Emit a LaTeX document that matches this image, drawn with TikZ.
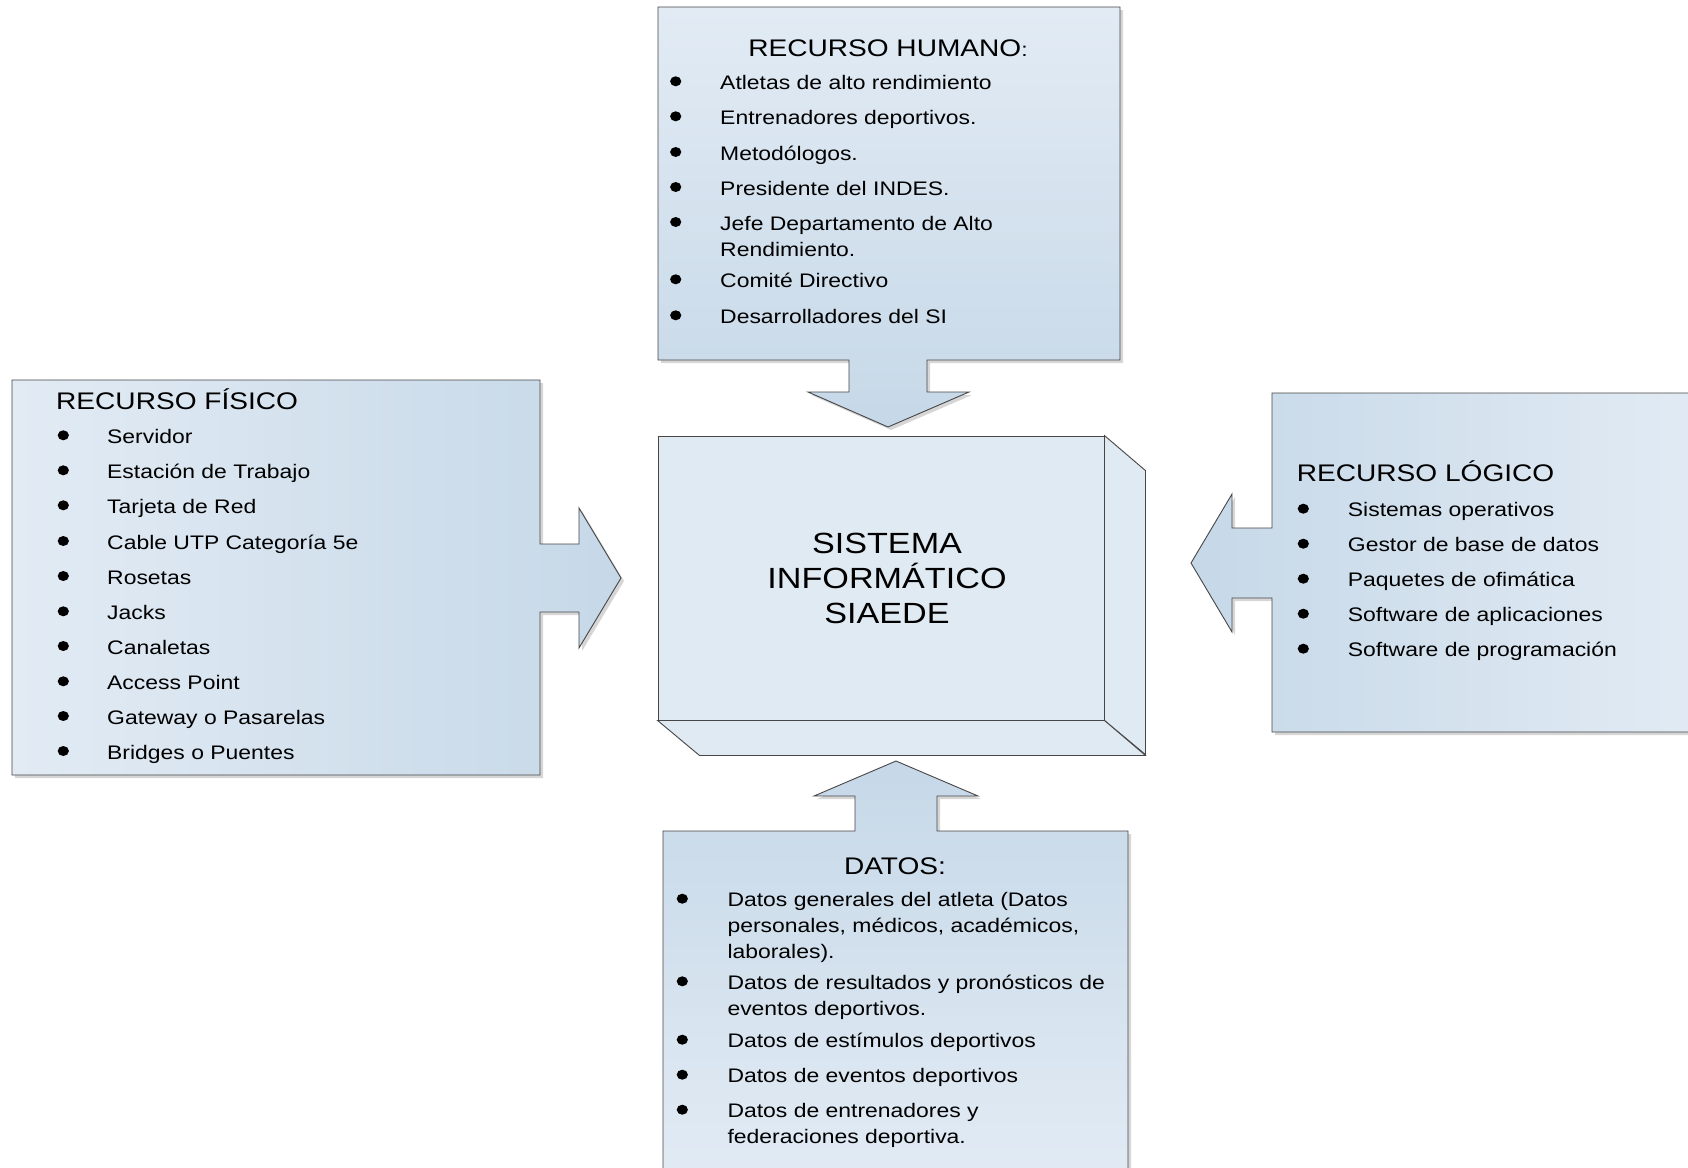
\documentclass[tikz,border=0pt]{standalone}
\usepackage{fontspec}
\setmainfont{Liberation Sans}[FakeStretch=1.17]
\definecolor{boxlight}{RGB}{226,235,244}
\definecolor{boxdark}{RGB}{198,216,232}
\definecolor{facefill}{RGB}{224,234,243}
\definecolor{edge}{RGB}{70,70,70}

% outlines of the four callout shapes (box plus arrow), in pixel units, y downwards
\def\humpath{(658,7) -- (1120,7) -- (1120,360) -- (927,360) -- (927,392) -- (969,392) -- (888,427) -- (808,392) -- (849,392) -- (849,360) -- (658,360) -- cycle}
\def\fispath{(12,380) -- (540,380) -- (540,544) -- (579,544) -- (579,508) -- (621,578) -- (579,648) -- (579,612) -- (540,612) -- (540,775) -- (12,775) -- cycle}
\def\logpath{(1272,393) -- (1700,393) -- (1700,732) -- (1272,732) -- (1272,598) -- (1232,598) -- (1232,632) -- (1191,563) -- (1232,494) -- (1232,528) -- (1272,528) -- cycle}
\def\datpath{(663,1180) -- (663,831) -- (855,831) -- (855,796) -- (814,796) -- (896,761) -- (978,796) -- (937,796) -- (937,831) -- (1128,831) -- (1128,1180) -- cycle}

\begin{document}
\begin{tikzpicture}[x=1pt,y=-1pt,
  callout/.style={draw=edge, line width=0.9pt, line join=miter},
  dropshadow/.style={fill=black!35, opacity=0.45, shift={(3,3)}},
  face/.style={draw=edge, line width=0.9pt, fill=facefill},
  title/.style={inner sep=0pt, font=\fontsize{24}{28}\selectfont},
  item/.style={anchor=base west, inner sep=0pt, font=\fontsize{19.6}{26}\selectfont},
  bullet/.style={fill=black}]

\useasboundingbox (0,0) rectangle (1688,1167);
\clip (0,0) rectangle (1688,1167);
\fill[white] (0,0) rectangle (1688,1167);

% shadows
\fill[dropshadow] \humpath;
\fill[dropshadow] \fispath;
\fill[dropshadow] \logpath;
\fill[dropshadow] \datpath;

% callouts
\shadedraw[callout, top color=boxlight, bottom color=boxdark] \humpath;
\shadedraw[callout, left color=boxlight, right color=boxdark] \fispath;
\shadedraw[callout, left color=boxdark, right color=boxlight] \logpath;
\shadedraw[callout, top color=boxdark, bottom color=boxlight] \datpath;

% central block
\node[face, minimum width=446pt, minimum height=284pt, inner sep=0pt] (sys) at (881,578) {};
\draw[face] (sys.north east) -- ++(41,35) -- ++(0,284) -- (sys.south east) -- cycle;
\draw[face] (sys.south west) -- (sys.south east) -- ++(41,35) -- ++(-446,0) -- cycle;
\node[anchor=base, inner sep=0pt, font=\fontsize{29.2}{35}\selectfont] (systext) at (887,553.3)
  {\parbox[t]{420pt}{\centering SISTEMA\\INFORMÁTICO\\SIAEDE}};

% RECURSO HUMANO
\node[title, anchor=base] (humtitle) at (888,56) {RECURSO HUMANO{\fontsize{19.6}{20}\selectfont:}};
\foreach \yy/\txt [count=\i] in {89.3/Atletas de alto rendimiento, 124.3/Entrenadores deportivos., 160/Metodólogos., 195/Presidente del INDES., 287.3/Comité Directivo, 323.3/Desarrolladores del SI}{
  \fill[bullet] (675.7,{\yy-8}) ellipse (5.6 and 5);
  \node[item] (hum\i) at (720,\yy) {\txt};
}
\fill[bullet] (675.7,222) ellipse (5.6 and 5);
\node[item] (humjefe) at (720,230) {\parbox[t]{330pt}{Jefe Departamento de Alto\\Rendimiento.}};

% RECURSO FISICO
\node[title, anchor=base west] (fistitle) at (56,409.3) {RECURSO FÍSICO};
\foreach \yy/\txt [count=\i] in {443.3/Servidor, 478.3/Estación de Trabajo, 513.3/Tarjeta de Red, 549/Cable UTP Categoría 5e, 584/Rosetas, 619.3/Jacks, 654/Canaletas, 689.3/Access Point, 724/Gateway o Pasarelas, 759/Bridges o Puentes}{
  \fill[bullet] (63.3,{\yy-8}) ellipse (5.6 and 5);
  \node[item] (fis\i) at (107,\yy) {\txt};
}

% RECURSO LOGICO
\node[title, anchor=base west] (logtitle) at (1296.7,481.7) {RECURSO LÓGICO};
\foreach \yy/\txt [count=\i] in {516.7/Sistemas operativos, 551.7/Gestor de base de datos, 586.7/Paquetes de ofimática, 621.7/Software de aplicaciones, 656.7/Software de programación}{
  \fill[bullet] (1303.3,{\yy-8}) ellipse (5.6 and 5);
  \node[item] (log\i) at (1347.7,\yy) {\txt};
}

% DATOS
\node[title, anchor=base] (dattitle) at (895,874) {DATOS:};
\foreach \yy in {906.7, 989.3, 1047.7, 1082.7, 1117.7}{
  \fill[bullet] (682.3,{\yy-8}) ellipse (5.6 and 5);
}
\node[item] (dat1) at (727.3,906.7) {\parbox[t]{390pt}{Datos generales del atleta (Datos\\personales, médicos, académicos,\\laborales).}};
\node[item] (dat2) at (727.3,989.3) {\parbox[t]{390pt}{Datos de resultados y pronósticos de\\eventos deportivos.}};
\node[item] (dat3) at (727.3,1047.7) {Datos de estímulos deportivos};
\node[item] (dat4) at (727.3,1082.7) {Datos de eventos deportivos};
\node[item] (dat5) at (727.3,1117.7) {\parbox[t]{390pt}{Datos de entrenadores y\\federaciones deportiva.}};

\end{tikzpicture}
\end{document}
